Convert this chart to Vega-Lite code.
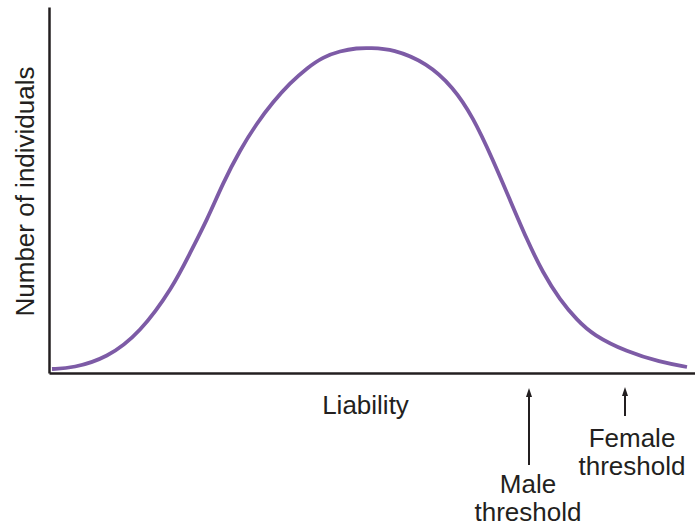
{
  "$schema": "https://vega.github.io/schema/vega-lite/v6.json",
  "autosize": "none",
  "width": 646,
  "height": 366,
  "padding": {"left": 49, "top": 7, "right": 0, "bottom": 153},
  "background": "white",
  "config": {
    "view": {"stroke": null},
    "font": "Liberation Sans",
    "axis": {"grid": false, "ticks": false, "labels": false, "domainColor": "#231f20", "domainWidth": 2.5, "titleFont": "Liberation Sans", "titleFontSize": 26, "titleFontWeight": "normal", "titleColor": "#231f20"}
  },
  "layer": [
    {
      "data": {"values": [
        {"liability": 3, "count": 4}, {"liability": 24, "count": 5}, {"liability": 58, "count": 15},
        {"liability": 91, "count": 40}, {"liability": 124, "count": 86}, {"liability": 141, "count": 120},
        {"liability": 158, "count": 153}, {"liability": 174, "count": 190}, {"liability": 191, "count": 223},
        {"liability": 208, "count": 250}, {"liability": 224, "count": 271}, {"liability": 241, "count": 290},
        {"liability": 258, "count": 305}, {"liability": 274, "count": 316}, {"liability": 291, "count": 322},
        {"liability": 308, "count": 325}, {"liability": 321, "count": 325}, {"liability": 344, "count": 324},
        {"liability": 378, "count": 310}, {"liability": 404, "count": 286}, {"liability": 424, "count": 256},
        {"liability": 444, "count": 213}, {"liability": 461, "count": 173}, {"liability": 478, "count": 133},
        {"liability": 494, "count": 100}, {"liability": 511, "count": 73}, {"liability": 528, "count": 53},
        {"liability": 544, "count": 38}, {"liability": 578, "count": 21}, {"liability": 611, "count": 11},
        {"liability": 638, "count": 6}
      ]},
      "mark": {"type": "line", "interpolate": "basis", "color": "#7D5BA6", "strokeWidth": 3.8, "strokeCap": "butt"},
      "encoding": {
        "x": {"field": "liability", "type": "quantitative", "scale": {"domain": [0, 646], "nice": false, "zero": false},
          "axis": {"title": "Liability", "titleX": 316, "titleY": 40, "titleBaseline": "alphabetic", "titleAlign": "center"}},
        "y": {"field": "count", "type": "quantitative", "scale": {"domain": [0, 366], "nice": false, "zero": false},
          "axis": {"title": "Number of individuals", "titleX": -16, "titleY": 184, "titleAngle": -90, "titleBaseline": "alphabetic", "titleAlign": "center"}}
      }
    },
    {
      "data": {"values": [
        {"sex": "Male", "pos": 480, "tip": -15, "tail": -92, "head": -20},
        {"sex": "Female", "pos": 576, "tip": -14, "tail": -43, "head": -19}
      ]},
      "layer": [
        {
          "mark": {"type": "rule", "color": "#231f20", "strokeWidth": 2},
          "encoding": {
            "x": {"field": "pos", "type": "quantitative"},
            "y": {"field": "tail", "type": "quantitative"},
            "y2": {"field": "head"}
          }
        },
        {
          "mark": {"type": "point", "shape": "M0,-1L0.6,0.8L-0.6,0.8Z", "size": 100, "filled": true, "color": "#231f20", "opacity": 1},
          "encoding": {
            "x": {"field": "pos", "type": "quantitative"},
            "y": {"field": "head", "type": "quantitative"}
          }
        }
      ]
    },
    {
      "data": {"values": [
        {"label": "Male\nthreshold", "pos": 479, "base": -120},
        {"label": "Female\nthreshold", "pos": 583, "base": -74}
      ]},
      "mark": {"type": "text", "lineBreak": "\n", "align": "center", "baseline": "alphabetic", "fontSize": 26, "lineHeight": 27.5, "color": "#231f20", "font": "Liberation Sans"},
      "encoding": {
        "x": {"field": "pos", "type": "quantitative"},
        "y": {"field": "base", "type": "quantitative"},
        "text": {"field": "label"}
      }
    }
  ]
}
